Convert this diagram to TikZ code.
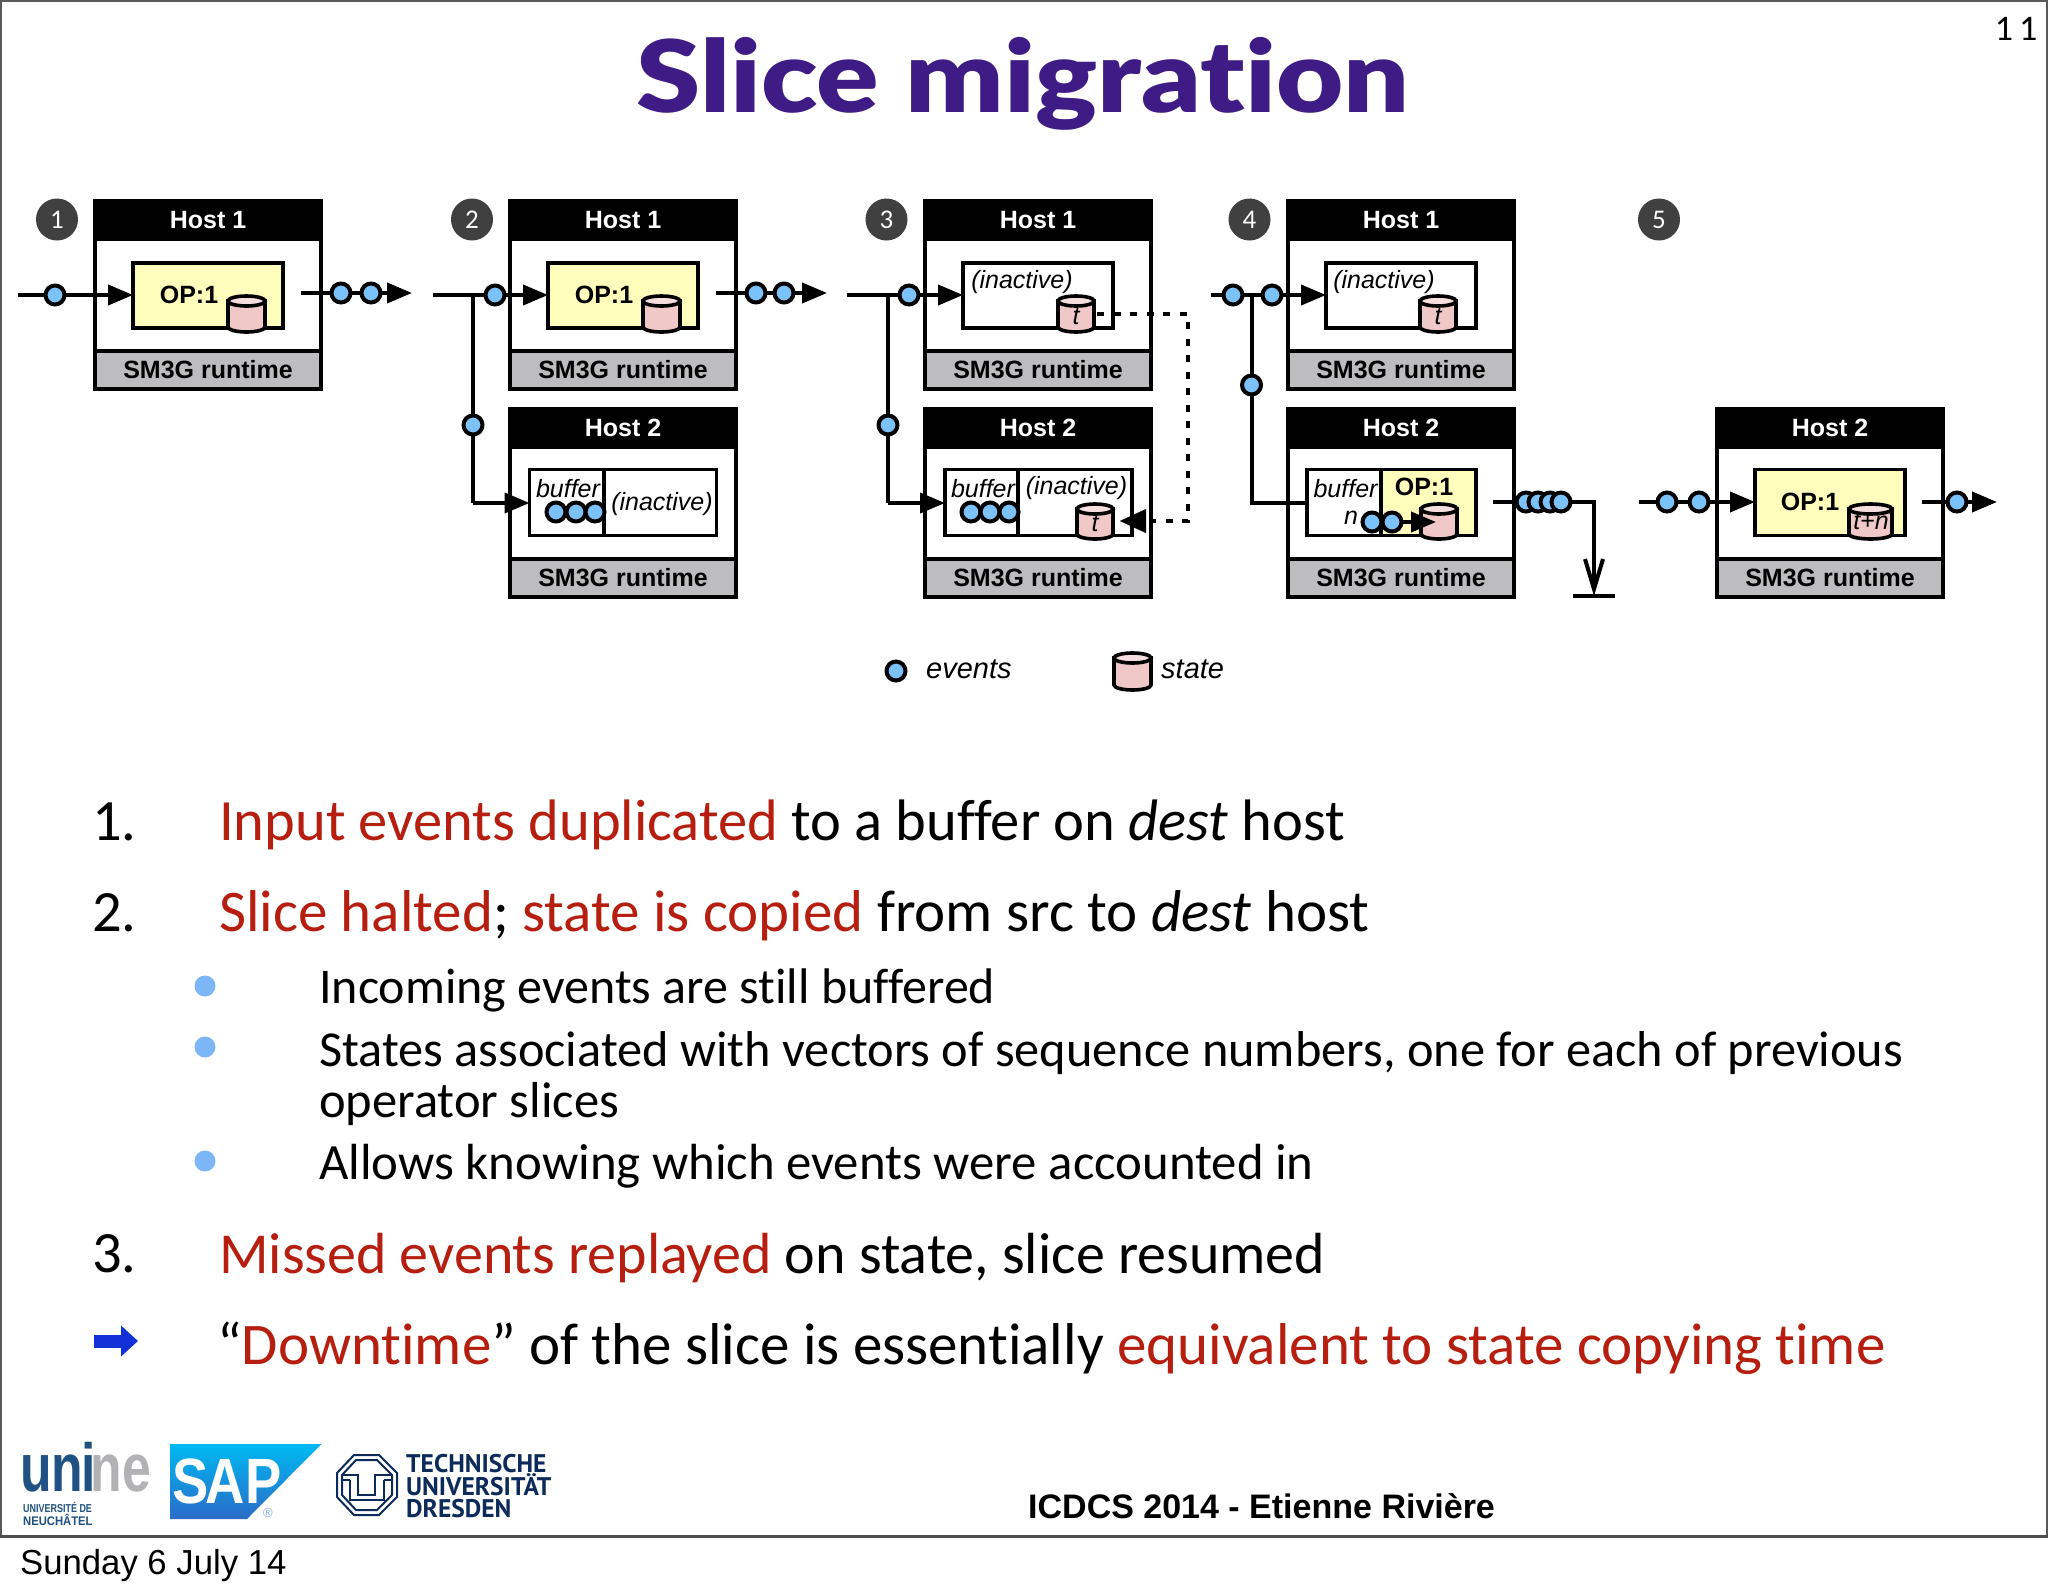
\documentclass[tikz,border=0pt]{standalone}
\usepackage{fontspec}
\usetikzlibrary{arrows.meta,calc}
\setmainfont{Carlito}[Ligatures=NoCommon]
\newfontfamily\arialf{Liberation Sans}
\newfontfamily\titlef{Lato Black}[FakeStretch=1.16,Ligatures=NoCommon]
\newfontfamily\tuf{PT Sans}
\definecolor{evblue}{HTML}{7CC2FA}
\definecolor{opyel}{HTML}{FFFDBB}
\definecolor{cylpink}{HTML}{F0C8C8}
\definecolor{cyltop}{HTML}{F7DEDE}
\definecolor{rungrey}{HTML}{BDBCBE}
\definecolor{titlepurple}{HTML}{3F1C85}
\definecolor{slidered}{HTML}{B61E10}
\definecolor{bullblue}{HTML}{7DB6F6}
\definecolor{arrowblue}{HTML}{1232D8}
\definecolor{numgrey}{HTML}{404040}
\definecolor{tunavy}{HTML}{0C2A5A}
\definecolor{uniblue}{HTML}{1F5282}
\definecolor{unigrey}{HTML}{B2B2B4}
\definecolor{sapa}{HTML}{00B9F2}
\definecolor{sapb}{HTML}{2B6CC8}
\tikzset{
  lw/.style={line width=3.6pt},
  panelbox/.style={draw=black,lw,fill=white,anchor=north west,outer sep=0pt,inner sep=0pt,minimum width=226pt,minimum height=188pt},
  hdr/.style={draw=black,lw,fill=black,text=white,anchor=north west,outer sep=0pt,inner sep=0pt,minimum width=226pt,minimum height=38pt,font=\arialf\fontsize{25}{25}\selectfont\bfseries},
  rtm/.style={draw=black,lw,fill=rungrey,anchor=north west,outer sep=0pt,inner sep=0pt,minimum width=226pt,minimum height=38pt,font=\arialf\fontsize{25}{25}\selectfont\bfseries},
  innerbox/.style={draw=black,lw,anchor=north west,outer sep=0pt,inner sep=0pt},
  ev/.style={circle,draw=black,line width=4pt,fill=evblue,minimum size=19pt,inner sep=0pt,outer sep=0pt},
  conn/.style={draw=black,line width=4pt},
  arr/.style={conn,-{Triangle[length=25pt,width=20pt]}},
  dotconn/.style={draw=black,line width=4.2pt,dash pattern=on 7pt off 9.5pt},
  numb/.style={circle,fill=numgrey,text=white,minimum size=42pt,inner sep=0pt,font=\fontsize{27}{27}\selectfont},
  blab/.style={inner sep=0pt,font=\arialf\fontsize{25}{25}\selectfont\bfseries},
  ilab/.style={inner sep=0pt,font=\arialf\fontsize{25}{25}\selectfont\itshape},
  bodyl/.style={anchor=base west,inner sep=0pt,font=\fontsize{58.5}{58.5}\selectfont},
  subl/.style={anchor=base west,inner sep=0pt,font=\fontsize{50}{50}\selectfont},
  bull/.style={circle,fill=bullblue,minimum size=21pt,inner sep=0pt},
}
% host panel: id, x, y, title
\newcommand{\hostpanel}[4]{%
  \node[panelbox] (#1) at (#2,#3) {};
  \node[hdr] (#1h) at (#2,#3) {#4};
  \node[rtm] (#1r) at ($(#2,#3)+(0,150)$) {SM3G runtime};
}
% state cylinder: x-left, y-top, x-right, y-bottom
\newcommand{\statecyl}[4]{%
  \draw[lw,fill=cylpink] (#1,{#2+6}) -- (#1,{#4-5}) arc[start angle=180,end angle=0,x radius={(#3-#1)/2},y radius=5] -- (#3,{#2+6}) -- cycle;
  \draw[lw,fill=cyltop] ({(#1+#3)/2},{#2+6}) ellipse[x radius={(#3-#1)/2},y radius=5];
}
\begin{document}
\begin{tikzpicture}[x=1pt,y=-1pt]
\useasboundingbox (0,0) rectangle (2048,1593);
\fill[white] (0,0) rectangle (2048,1593);
% slide frame
\coordinate (fa) at (1,1536); \coordinate (fb) at (1,1); \coordinate (fc) at (2047,1); \coordinate (fd) at (2047,1536);
\draw[draw=black!65,line width=2pt] (fa) -- (fb) -- (fc) -- (fd);
\draw[draw=black!70,line width=3pt] (0,1536) -- (2048,1536);
% title
\node[inner sep=0pt,anchor=base,text=titlepurple,font=\titlef\fontsize{100}{100}\selectfont] (title) at (1023,112) {Slice migration};
\node[inner sep=0pt,font=\fontsize{36}{36}\selectfont] (pageno) at (2016,29) {1\,1};
% number circles
\node[numb] (n1) at (57,219.5) {1};
\node[numb] (n2) at (472,219.5) {2};
\node[numb] (n3) at (886.5,219.5) {3};
\node[numb] (n4) at (1249.5,219.5) {4};
\node[numb] (n5) at (1659,219.5) {5};
% panels
\hostpanel{pa}{95}{201}{Host 1}
\hostpanel{pb}{510}{201}{Host 1}
\hostpanel{pc}{925}{201}{Host 1}
\hostpanel{pd}{1288}{201}{Host 1}
\hostpanel{qb}{510}{409}{Host 2}
\hostpanel{qc}{925}{409}{Host 2}
\hostpanel{qd}{1288}{409}{Host 2}
\hostpanel{qe}{1717}{409}{Host 2}
% inner boxes
\node[innerbox,fill=opyel,minimum width=150pt,minimum height=65pt] (ba) at (133,263) {};
\node[innerbox,fill=opyel,minimum width=150pt,minimum height=65pt] (bb) at (548,263) {};
\node[innerbox,fill=white,minimum width=150pt,minimum height=65pt] (bc) at (963,263) {};
\node[innerbox,fill=white,minimum width=150pt,minimum height=65pt] (bd) at (1326,263) {};
\node[innerbox,fill=white,minimum width=187pt,minimum height=66pt] (cb) at (529.5,469.5) {};
\node[innerbox,fill=white,minimum width=187pt,minimum height=66pt] (cc) at (945,469.5) {};
\node[innerbox,fill=white,minimum width=169pt,minimum height=66pt] (cd) at (1307,469.5) {};
\fill[opyel] (1381,469.5) rectangle (1476,535.5);
\node[innerbox,minimum width=169pt,minimum height=66pt] (cdb) at (1307,469.5) {};
\node[innerbox,fill=opyel,minimum width=150pt,minimum height=66pt] (ce) at (1755,469.5) {};
\draw[lw] (604,469.5) -- (604,535.5);
\draw[lw] (1018,469.5) -- (1018,535.5);
\draw[lw] (1381,469.5) -- (1381,535.5);
% inner labels
\node[blab] (ta) at (189,295) {OP:1};
\node[blab] (tb) at (604,295) {OP:1};
\node[blab] (tcd) at (1424,487) {OP:1};
\node[blab] (te) at (1810,502) {OP:1};
\node[ilab] (ic) at (1022,282) {(inactive)};
\node[ilab] (id) at (1384,282) {(inactive)};
\node[ilab] (ib) at (662,504) {(inactive)};
\node[ilab] (icc) at (1076.5,488.5) {(inactive)};
\node[ilab] (bfb) at (568,488.5) {buffer};
\node[ilab] (bfc) at (983,488.5) {buffer};
\node[ilab] (bfd) at (1345.5,488.5) {buffer};
\node[ilab] (nn) at (1351,518) {n};
% cylinders
\statecyl{228}{295}{265}{332}
\statecyl{643}{295}{680}{332}
\statecyl{1058}{295}{1094}{332}
\statecyl{1420}{295}{1456}{332}
\statecyl{1077}{503}{1113}{539}
\statecyl{1421}{503}{1457}{539}
\statecyl{1849}{503}{1892}{539}
\node[ilab] (tt1) at (1076,317) {t};
\node[ilab] (tt2) at (1438,317) {t};
\node[ilab] (tt3) at (1095,524) {t};
\node[ilab] (tt4) at (1871,522) {t+n};
% free connector ends
\coordinate (a1s) at (18,295);
\coordinate (a1o) at (301,293); \coordinate (a1t) at (412,293);
\coordinate (a2s) at (433,295); \coordinate (a2j) at (473,295); \coordinate (a2c) at (473,503);
\coordinate (a2o) at (716,293); \coordinate (a2t) at (827,293);
\coordinate (a3s) at (847,295); \coordinate (a3j) at (888,295); \coordinate (a3c) at (888,503);
\coordinate (a4s) at (1211,295); \coordinate (a4j) at (1252,295); \coordinate (a4c) at (1252,503);
\coordinate (a4o) at (1493,502); \coordinate (a4k) at (1594,502); \coordinate (a4g) at (1594,596);
\coordinate (gl) at (1573,596); \coordinate (gr) at (1615,596);
\coordinate (a5s) at (1639,502);
\coordinate (a5o) at (1922,502); \coordinate (a5t) at (1997,502);
\coordinate (ds) at (1097,314); \coordinate (dk) at (1188,314); \coordinate (dl) at (1188,521); \coordinate (dt) at (1120,521);
\coordinate (rs) at (1385,522); \coordinate (rt) at (1436,522);
% connectors
\draw[arr] (a1s) -- (ba.west |- a1s);
\draw[arr] (a1o) -- (a1t);
\draw[arr] (a2s) -- (bb.west |- a2s);
\draw[conn] (a2j) -- (a2c);
\draw[arr] (a2c) -- (cb.west |- a2c);
\draw[arr] (a2o) -- (a2t);
\draw[arr] (a3s) -- (bc.west |- a3s);
\draw[conn] (a3j) -- (a3c);
\draw[arr] (a3c) -- (cc.west |- a3c);
\draw[arr] (a4s) -- (bd.west |- a4s);
\draw[conn] (a4j) -- (a4c) -- (cd.west |- a4c);
\draw[conn,-{Straight Barb[length=30pt,width=18pt,line width=4pt]}] (a4o) -- (a4k) -- (a4g);
\draw[conn] (gl) -- (gr);
\draw[arr] (a5s) -- (ce.west |- a5s);
\draw[arr] (a5o) -- (a5t);
\draw[dotconn] (ds) -- (dk) -- (dl) -- (1145,521);
\draw[draw=black,-{Triangle[length=26pt,width=24pt]},line width=0.1pt] (1145,521) -- (dt);
\draw[arr] (rs) -- (rt);
% events
\node[ev] (e1) at (55,295) {};
\node[ev] (e2) at (341,293) {};
\node[ev] (e3) at (371,293) {};
\node[ev] (e4) at (495,295) {};
\node[ev] (e5) at (473,425) {};
\node[ev] (e6) at (756,293) {};
\node[ev] (e7) at (784,293) {};
\node[ev] (e8) at (556,512) {};
\node[ev] (e9) at (576,512) {};
\node[ev] (e10) at (595,512) {};
\node[ev] (e11) at (909,295) {};
\node[ev] (e12) at (888,425) {};
\node[ev] (e13) at (971,512) {};
\node[ev] (e14) at (990,512) {};
\node[ev] (e15) at (1009,512) {};
\node[ev] (e16) at (1233,295) {};
\node[ev] (e17) at (1272,295) {};
\node[ev] (e18) at (1251.5,385) {};
\node[ev] (e19) at (1372,522) {};
\node[ev] (e20) at (1392,522) {};
\node[ev] (e21) at (1526,502) {};
\node[ev] (e22) at (1538,502) {};
\node[ev] (e23) at (1550,502) {};
\node[ev] (e24) at (1561,502) {};
\node[ev] (e25) at (1667,502) {};
\node[ev] (e26) at (1699,502) {};
\node[ev] (e27) at (1957,502) {};
% legend
\node[ev] (le) at (896,671) {};
\node[inner sep=0pt,anchor=west,font=\arialf\fontsize{29}{29}\selectfont\itshape] (lt1) at (926,669) {events};
\statecyl{1114}{652}{1151}{690}
\node[inner sep=0pt,anchor=west,font=\arialf\fontsize{29}{29}\selectfont\itshape] (lt2) at (1161,669) {state};
% body text
\node[bodyl] (l1n) at (92,840) {1.};
\node[bodyl] (l1) at (219,840) {\textcolor{slidered}{Input events duplicated} to a buffer on \textit{dest} host};
\node[bodyl] (l2n) at (92,931) {2.};
\node[bodyl,font=\fontsize{59}{59}\selectfont] (l2) at (219,931) {\textcolor{slidered}{Slice halted}; \textcolor{slidered}{state is copied} from src to \textit{dest} host};
\node[bull] (b1) at (205,986) {};
\node[subl] (s1) at (319,1003) {Incoming events are still buffered};
\node[bull] (b2) at (205,1047) {};
\node[subl,font=\fontsize{50.35}{50.35}\selectfont] (s2) at (319,1066) {States associated with vectors of sequence numbers, one for each of previous};
\node[subl,font=\fontsize{50.5}{50.5}\selectfont] (s2b) at (319,1117) {operator slices};
\node[bull] (b3) at (205,1161) {};
\node[subl,font=\fontsize{50.8}{50.8}\selectfont] (s3) at (319,1179) {Allows knowing which events were accounted in};
\node[bodyl] (l3n) at (92,1272) {3.};
\node[bodyl,font=\fontsize{58}{58}\selectfont] (l3) at (219,1273) {\textcolor{slidered}{Missed events replayed} on state, slice resumed};
\coordinate (ba1) at (94,1341); \coordinate (ba2) at (138,1341);
\draw[arrowblue,line width=13pt,-{Triangle[length=17pt,width=30pt]}] (ba1) -- (ba2);
\node[bodyl,font=\fontsize{59}{59}\selectfont] (l4) at (217,1364) {“\textcolor{slidered}{Downtime}” of the slice is essentially \textcolor{slidered}{equivalent to state copying time}};
% footer
\node[inner sep=0pt,anchor=base west,font=\arialf\fontsize{34}{34}\selectfont\bfseries] (foot) at (1028,1518) {ICDCS 2014 - Etienne Rivière};
\node[inner sep=0pt,anchor=base west,font=\arialf\fontsize{34.7}{34.7}\selectfont] (date) at (20,1574) {Sunday 6 July 14};
% unine logo
\node[inner sep=0pt,anchor=base west,font=\arialf\fontsize{68}{68}\selectfont\bfseries] (un) at (20,1491) {\scalebox{0.76}[1]{\textcolor{uniblue}{un\kern-2pt i}\kern-7pt\textcolor{unigrey}{ne}}};
\node[inner sep=0pt,anchor=base west,text=uniblue,font=\arialf\fontsize{11.5}{11.5}\selectfont\bfseries] (un2) at (23,1512) {\scalebox{0.78}[1]{UNIVERSITÉ DE}};
\node[inner sep=0pt,anchor=base west,text=uniblue,font=\arialf\fontsize{12.5}{12.5}\selectfont\bfseries] (un3) at (23,1525) {\scalebox{0.9}[1]{NEUCHÂTEL}};
% SAP logo
\shade[top color=sapa,bottom color=sapb] (170,1444) -- (321.5,1444) -- (247,1519) -- (170,1519) -- cycle;
\node[inner sep=0pt,text=white,anchor=base west,font=\arialf\fontsize{64}{64}\selectfont\bfseries] (sap) at (172,1503) {\scalebox{0.85}[1]{S\kern-3pt AP}};
\node[inner sep=0pt,text=sapb!60,font=\arialf\fontsize{13}{13}\selectfont] (sapr) at (268,1513) {®};
% TU Dresden logo
\draw[tunavy,line width=2pt] (354,1455) -- (379,1455) -- (397,1473) -- (397,1497) -- (379,1515) -- (354,1515) -- (337,1497) -- (337,1473) -- cycle;
\draw[tunavy,line width=2pt] (356,1460) -- (377,1460) -- (392,1475) -- (392,1495) -- (377,1510) -- (356,1510) -- (342,1495) -- (342,1475) -- cycle;
\draw[tunavy,line width=2pt] (342,1475) -- (358,1475) -- (358,1495) -- (375,1495) -- (375,1475) -- (392,1475);
\draw[tunavy,line width=2pt] (350,1480) -- (350,1500) -- (384,1500) -- (384,1480);
\draw[tunavy,line width=2pt] (342,1480) -- (350,1480); \draw[tunavy,line width=2pt] (384,1480) -- (392,1480);
\node[inner sep=0pt,anchor=base west,text=tunavy,font=\tuf\fontsize{25.5}{25.5}\selectfont\bfseries] (tu1) at (406,1472) {TECHNISCHE};
\node[inner sep=0pt,anchor=base west,text=tunavy,font=\tuf\fontsize{25.5}{25.5}\selectfont\bfseries] (tu2) at (406,1495) {UNIVERSITÄT};
\node[inner sep=0pt,anchor=base west,text=tunavy,font=\tuf\fontsize{25.5}{25.5}\selectfont\bfseries] (tu3) at (406,1517) {DRESDEN};
\end{tikzpicture}
\end{document}
